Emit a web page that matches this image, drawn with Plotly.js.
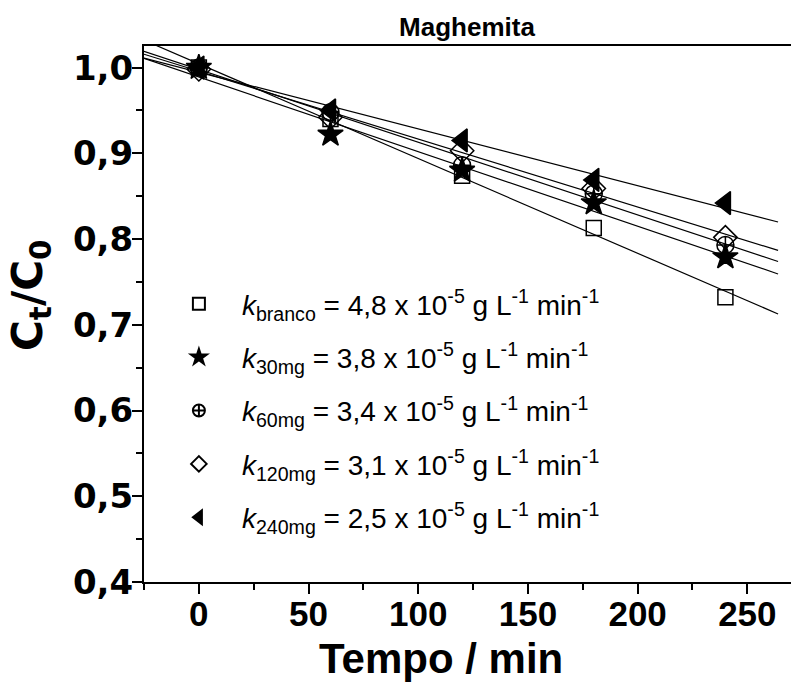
<!DOCTYPE html>
<html><head><meta charset="utf-8">
<script src="https://cdn.plot.ly/plotly-3.0.1.min.js"></script>
<style>html,body{margin:0;padding:0;background:#fff}</style>
</head><body>
<div id="chart" style="width:791px;height:684px"></div>
<script>
// ---- data ----
const time = [0, 60, 120, 180, 240];
const branco = [1.000, 0.940, 0.874, 0.813, 0.732];
const mg30 = [1.000, 0.922, 0.880, 0.842, 0.779];
const mg60 = [1.000, 0.948, 0.886, 0.853, 0.793];
const mg120 = [0.998, 0.942, 0.903, 0.859, 0.802];
const mg240 = [1.000, 0.950, 0.915, 0.869, 0.842];
const seriesNames = [
  '<i>k</i><sub>branco</sub> = 4,8 x 10<sup>-5</sup> g L<sup>-1</sup> min<sup>-1</sup>',
  '<i>k</i><sub>30mg</sub> = 3,8 x 10<sup>-5</sup> g L<sup>-1</sup> min<sup>-1</sup>',
  '<i>k</i><sub>60mg</sub> = 3,4 x 10<sup>-5</sup> g L<sup>-1</sup> min<sup>-1</sup>',
  '<i>k</i><sub>120mg</sub> = 3,1 x 10<sup>-5</sup> g L<sup>-1</sup> min<sup>-1</sup>',
  '<i>k</i><sub>240mg</sub> = 2,5 x 10<sup>-5</sup> g L<sup>-1</sup> min<sup>-1</sup>'
];
const xTickVals = [0, 50, 100, 150, 200, 250];
const xTickText = ['0', '50', '100', '150', '200', '250'];
const yTickVals = [0.4, 0.5, 0.6, 0.7, 0.8, 0.9, 1.0];
const yTickText = ['0,4', '0,5', '0,6', '0,7', '0,8', '0,9', '1,0'];
const fitRange = [-25, 264];
const chartTitle = '<b>Maghemita</b>';
const xTitle = '<b>Tempo / min</b>';
const yTitle = '<b>C<sub>t</sub>/C<sub>0</sub></b>';

// ---- styling ----
const seriesData = [branco, mg30, mg60, mg120, mg240];
const symbols = ['square-open', 'star', 'circle-cross-open', 'diamond-open', 'triangle-left'];
const sizes = [15, 19, 17, 18, 20];

function linfit(x, y) {
  const n = x.length;
  const mx = x.reduce((a, b) => a + b, 0) / n;
  const my = y.reduce((a, b) => a + b, 0) / n;
  let sxy = 0, sxx = 0;
  for (let i = 0; i < n; i++) { sxy += (x[i] - mx) * (y[i] - my); sxx += (x[i] - mx) ** 2; }
  const b = sxy / sxx;
  return [my - b * mx, b];
}

const traces = [];
seriesData.forEach((ys, i) => {
  const [a, b] = linfit(time, ys);
  traces.push({
    x: fitRange, y: fitRange.map(t => a + b * t), mode: 'lines',
    line: {color: '#000', width: 1.2}, showlegend: false, hoverinfo: 'skip'
  });
});
seriesData.forEach((ys, i) => {
  traces.push({
    x: time, y: ys, mode: 'markers', name: seriesNames[i], legendgroup: 'g' + i,
    marker: {symbol: symbols[i], size: sizes[i], color: '#000', line: {color: '#000', width: 1.5}}
  });
});

const layout = {
  width: 791, height: 684,
  margin: {l: 144, r: 0, t: 46, b: 102},
  paper_bgcolor: '#fff', plot_bgcolor: '#fff',
  font: {family: 'Liberation Sans, Arial, sans-serif', color: '#000'},
  title: {text: chartTitle, font: {size: 26, family: 'Liberation Sans, Arial, sans-serif'},
          x: 467 / 791, xref: 'container', xanchor: 'center', y: 1 - 27 / 684, yref: 'container', yanchor: 'middle'},
  xaxis: {
    range: [-25, 269.9], showgrid: false, zeroline: false,
    showline: true, linecolor: '#000', linewidth: 2, mirror: true,
    ticks: 'outside', ticklen: 10, tickwidth: 2, tickcolor: '#000',
    tickvals: xTickVals, ticktext: xTickText, ticklabelstandoff: -10,
    tickfont: {size: 35, family: 'Liberation Sans, Arial', weight: 'bold'},
    minor: {dtick: 25, tick0: -25, ticks: 'outside', ticklen: 6, tickwidth: 2, tickcolor: '#000'}
  },
  yaxis: {
    range: [0.4, 1.0252], showgrid: false, zeroline: false,
    showline: true, linecolor: '#000', linewidth: 2,
    ticks: 'outside', ticklen: 10, tickwidth: 2, tickcolor: '#000',
    tickvals: yTickVals, ticktext: yTickText, ticklabelstandoff: -8,
    tickfont: {size: 34, family: 'DejaVu Sans', weight: 'bold'},
    minor: {dtick: 0.05, tick0: 0.4, ticks: 'outside', ticklen: 6, tickwidth: 2, tickcolor: '#000'}
  },
  annotations: [
    {text: xTitle, xref: 'paper', yref: 'paper', x: (441 - 144) / 647, y: (582 - 658) / 536,
     xanchor: 'center', yanchor: 'middle', showarrow: false,
     font: {size: 42, family: 'Liberation Sans, Arial'}},
    {text: yTitle, xref: 'paper', yref: 'paper', x: (30 - 144) / 647, y: (582 - 295) / 536,
     xanchor: 'center', yanchor: 'middle', showarrow: false, textangle: -90,
     font: {size: 42, family: 'DejaVu Sans'}}
  ],
  showlegend: true,
  legend: {
    x: 0.0184, y: (582 - 279) / 536, xanchor: 'left', yanchor: 'top',
    bgcolor: 'rgba(0,0,0,0)', borderwidth: 0,
    font: {size: 28, family: 'Liberation Sans, Arial'},
    itemsizing: 'constant', tracegroupgap: 14, itemwidth: 76
  }
};

Plotly.newPlot('chart', traces, layout, {displayModeBar: false, staticPlot: true});
</script>
</body></html>
